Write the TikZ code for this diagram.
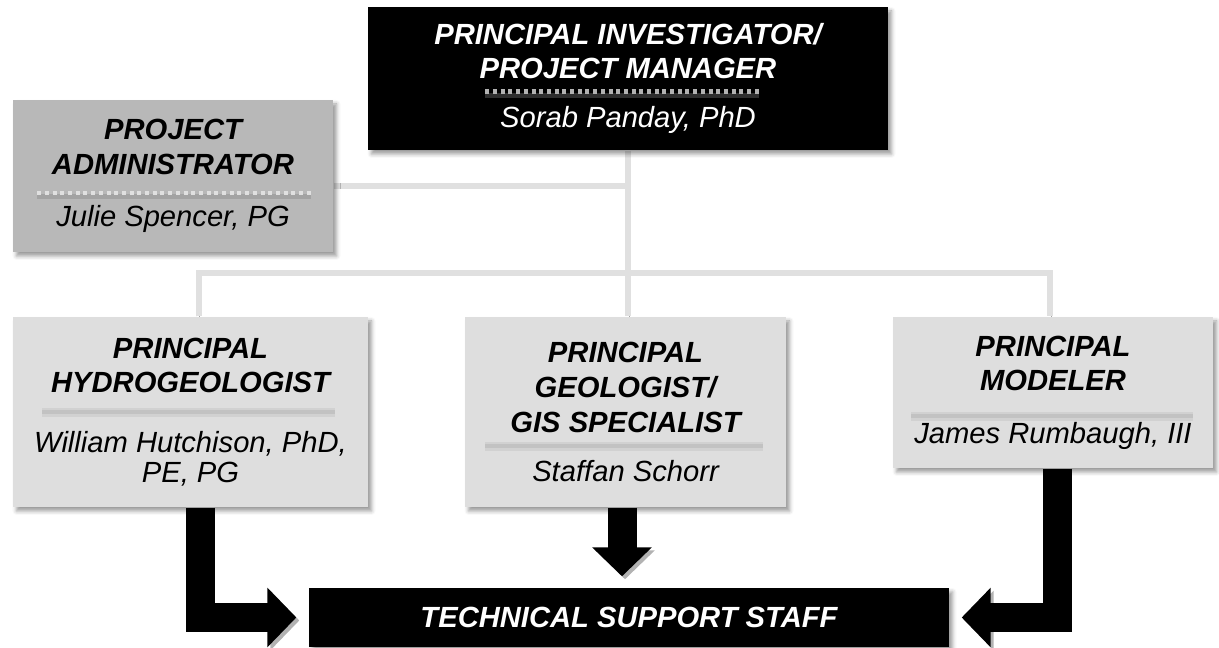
\documentclass[tikz,border=0pt]{standalone}
\usepackage{fontspec}
\setmainfont{Liberation Sans}
\usetikzlibrary{arrows.meta,positioning,calc,shadows.blur}
\pgfdeclarelayer{bg}
\pgfsetlayers{bg,main}

\begin{document}
\begin{tikzpicture}[
  font=\fontsize{8.3}{9.9}\selectfont\itshape,
  box/.style={rectangle, inner sep=0pt, align=center, text=black,
    blur shadow={shadow xshift=0.035cm, shadow yshift=-0.04cm, shadow blur radius=0.04cm}},
  lead/.style={box, fill=black, text=white},
  staff/.style={box, fill=black!13},
  conn/.style={line width=0.06cm, draw=black!12,
    preaction={draw=black!30, transform canvas={shift={(0.012cm,-0.022cm)}}}},
  bigarrow/.style={line width=0.29cm, line join=miter, shorten >=0.12cm,
    -{Triangle[length=0.29cm,width=0.58cm]},
    preaction={draw=black!30, transform canvas={shift={(0.03cm,-0.03cm)}}}},
  darkdots/.style={line width=0.045cm, draw=black!30, dash pattern=on 0.04cm off 0.037cm,
    preaction={draw=black!82, solid, line width=0.05cm, transform canvas={shift={(0,-0.04cm)}}}},
  litedots/.style={line width=0.04cm, draw=black!12, dash pattern=on 0.04cm off 0.037cm,
    preaction={draw=black!36, solid, line width=0.05cm, transform canvas={shift={(0,-0.035cm)}}}},
  softrule/.style={line width=0.04cm, draw=black!24, preaction={draw=black!18, line width=0.09cm}}
]
\useasboundingbox (0,0) rectangle (12.19,6.47);

% management
\node[lead, minimum width=5.20cm, minimum height=1.43cm] (pi) at (6.28,5.685)
  {\textbf{PRINCIPAL INVESTIGATOR/}\\\textbf{PROJECT MANAGER}\\[4pt]Sorab Panday, PhD};
\node[box, fill=black!28, minimum width=3.20cm, minimum height=1.52cm] (admin) at (1.73,4.71)
  {\textbf{PROJECT}\\\textbf{ADMINISTRATOR}\\[4.8pt]Julie Spencer, PG};

% principals
\node[staff, minimum width=3.55cm, minimum height=1.90cm] (hydro) at (1.905,2.35)
  {\textbf{PRINCIPAL}\\\textbf{HYDROGEOLOGIST}\\[7pt]William Hutchison, PhD,\\[-1.3pt]PE, PG};
\node[staff, minimum width=3.21cm, minimum height=1.90cm] (geo) at (6.255,2.35)
  {\textbf{PRINCIPAL}\\\textbf{GEOLOGIST/}\\\textbf{GIS SPECIALIST}\\[4pt]Staffan Schorr};
\node[staff, minimum width=3.20cm, minimum height=1.51cm] (modeler) at (10.53,2.545)
  {\textbf{PRINCIPAL}\\\textbf{MODELER}\\[5pt]James Rumbaugh, III};

\node[lead, minimum width=6.40cm, minimum height=0.59cm] (tech) at (6.29,0.295)
  {\textbf{TECHNICAL SUPPORT STAFF}};

% name separators
\draw[darkdots] ([xshift=1.18cm,yshift=-0.85cm]pi.north west) -- ([xshift=-1.30cm,yshift=-0.85cm]pi.north east);
\draw[litedots] ([xshift=0.25cm,yshift=-0.94cm]admin.north west) -- ([xshift=-0.23cm,yshift=-0.94cm]admin.north east);
\draw[softrule] ([xshift=0.30cm,yshift=-0.96cm]hydro.north west) -- ([xshift=-0.34cm,yshift=-0.96cm]hydro.north east);
\draw[softrule] ([xshift=0.21cm,yshift=-1.30cm]geo.north west) -- ([xshift=-0.24cm,yshift=-1.30cm]geo.north east);
\draw[softrule] ([xshift=0.19cm,yshift=-1.00cm]modeler.north west) -- ([xshift=-0.21cm,yshift=-1.00cm]modeler.north east);

\begin{pgfonlayer}{bg}
  % reporting lines
  \coordinate (bus) at (6.28,3.74);
  \coordinate (adm) at ([yshift=-0.10cm]admin.east);
  \draw[conn] (adm) -- (adm -| pi.south);
  \draw[conn] ([xshift=0.08cm]hydro.north) |- (bus) -| ([xshift=-0.03cm]modeler.north);
  \draw[conn] (pi.south) -- (pi.south |- geo.north);

  % support arrows
  \draw[bigarrow] ([xshift=0.10cm]hydro.south) |- (tech.west);
  \draw[bigarrow, shorten >=0.11cm] ([xshift=-0.035cm]geo.south) -- ([xshift=-0.035cm]geo.south |- tech.north);
  \draw[bigarrow] ([xshift=0.04cm]modeler.south) |- (tech.east);
\end{pgfonlayer}

\end{tikzpicture}
\end{document}
